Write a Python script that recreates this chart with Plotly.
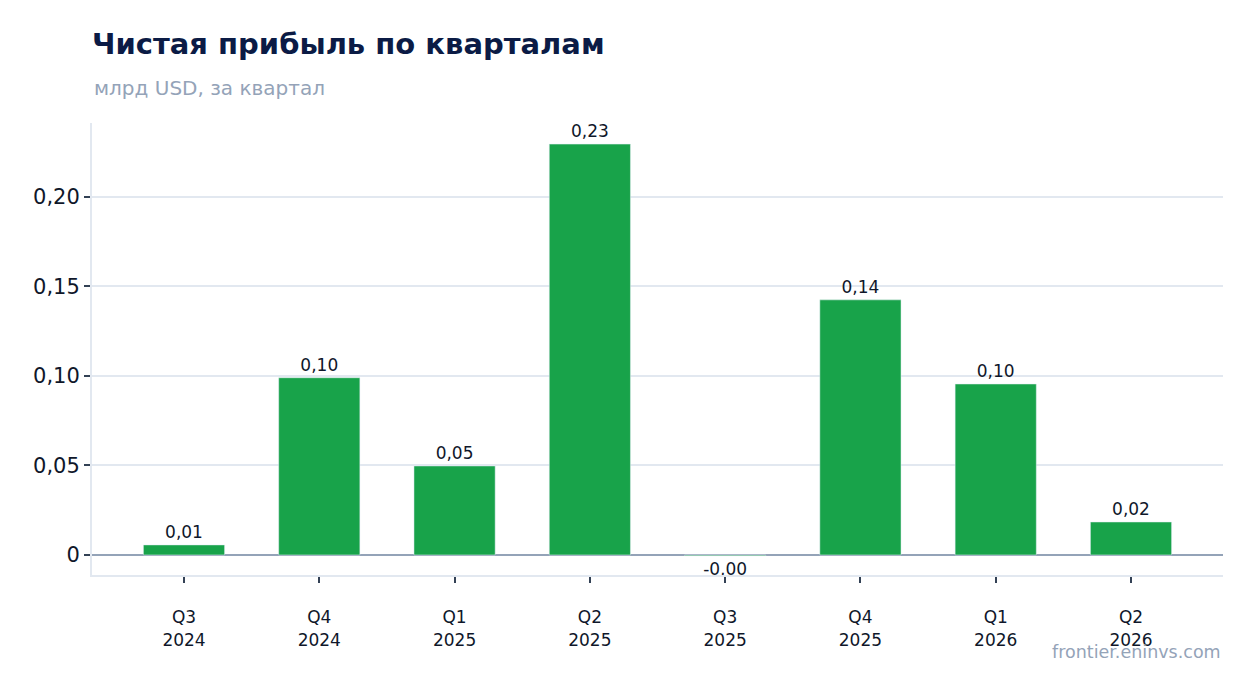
import plotly.graph_objects as go

# DATA
quarters = ["Q3<br>2024", "Q4<br>2024", "Q1<br>2025", "Q2<br>2025",
            "Q3<br>2025", "Q4<br>2025", "Q1<br>2026", "Q2<br>2026"]
net_income = [0.0056, 0.099, 0.0497, 0.2295, -0.0004, 0.1425, 0.0955, 0.0184]

y_ticks = [0, 0.05, 0.10, 0.15, 0.20]
y_tick_labels = ["0", "0,05", "0,10", "0,15", "0,20"]

# labels on bars, decimal comma, keep the sign of tiny negatives ("-0,00")
bar_labels = [f"{v:.2f}".replace(".", ",") for v in net_income]

font = "DejaVu Sans"
text_dark = "#0f172a"
grey = "#94a3b8"

# page body has an 8px margin, so the figure is drawn a bit smaller
W, H = 1246, 685
plot_h = H - 115 - 118

fig = go.Figure(go.Bar(
    x=quarters,
    y=net_income,
    text=bar_labels,
    marker_color="#18a34a",
    width=0.6,
    textposition="outside",
    cliponaxis=False,
    textfont=dict(size=17, color=text_dark, family=font),
))

fig.update_layout(
    width=W, height=H,
    margin=dict(l=84, r=31, t=115, b=118),
    paper_bgcolor="white", plot_bgcolor="white",
    separators=", ",
    showlegend=False,
    font=dict(family=font, color=text_dark),
    title=dict(text="<b>Чистая прибыль по кварталам</b>",
               x=84 / W, xanchor="left", y=1 - 36 / H, yanchor="middle",
               font=dict(size=29, color="#0b1b45", family=font)),
    annotations=[
        dict(text="млрд USD, за квартал", xref="paper", yref="paper",
             x=0, y=1 + 35 / plot_h, xanchor="left", yanchor="middle",
             showarrow=False, font=dict(size=20, color=grey, family=font)),
        dict(text="frontier.eninvs.com", xref="paper", yref="paper",
             x=1, y=-77 / plot_h, xanchor="right", yanchor="middle",
             showarrow=False, font=dict(size=17.5, color=grey, family=font)),
    ],
)

fig.update_xaxes(
    range=[-0.68, 7.68],
    showline=True, linecolor="#e2e8f0", linewidth=2,
    ticks="outside", ticklen=6, tickcolor="#334155", tickwidth=2,
    ticklabelstandoff=20,
    tickfont=dict(size=17, color=text_dark),
)
fig.update_yaxes(
    range=[-0.0112, 0.2413],
    tickvals=y_ticks, ticktext=y_tick_labels,
    showgrid=True, gridcolor="#e2e8f0", gridwidth=1.5,
    zeroline=True, zerolinecolor=grey, zerolinewidth=2,
    showline=True, linecolor="#e2e8f0", linewidth=2,
    ticks="outside", ticklen=6, tickcolor="#334155", tickwidth=2,
    tickfont=dict(size=21, color=text_dark),
)

fig.write_html("out.html")
